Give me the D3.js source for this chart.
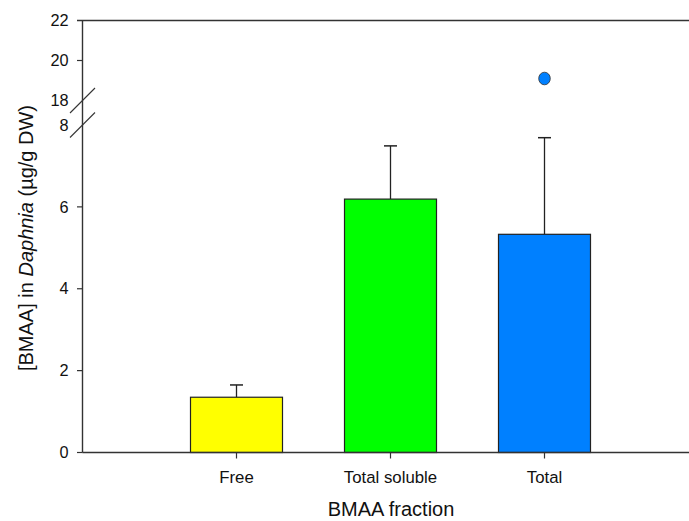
<!DOCTYPE html>
<html>
<head>
<meta charset="utf-8">
<script src="https://cdn.jsdelivr.net/npm/d3@7"></script>
<style>
body{margin:0;background:#fff;}
svg{display:block;font-family:"Liberation Sans",Arial,sans-serif;}
</style>
</head>
<body>
<svg id="chart" width="689" height="521"></svg>
<script>
const categories = ["Free", "Total soluble", "Total"];
const means = [1.35, 6.19, 5.33];
const errTop = [1.65, 7.49, 7.69];
const colors = ["#ffff00", "#00ff00", "#0080ff"];
const outliers = [{cat: "Total", value: 19.1}];
const lowTicks = [0, 2, 4, 6, 8];
const highTicks = [18, 20, 22];

const svg = d3.select("#chart");
const W = 689, H = 521;
const axisX = 82.5;
const x = d3.scaleLinear().domain([0, 4]).range([axisX, axisX + 4 * 154]);
const catPos = c => x(categories.indexOf(c) + 1);
const yLow = d3.scaleLinear().domain([0, 8]).range([452.5, 125]);
const yHigh = d3.scaleLinear().domain([18, 22]).range([100.5, 20.5]);
const barW = 92;

// Bars
const g = svg.append("g");
categories.forEach((c, i) => {
  const cx = catPos(c);
  g.append("line").attr("x1", cx).attr("x2", cx)
    .attr("y1", yLow(means[i])).attr("y2", yLow(errTop[i]))
    .attr("stroke", "#222").attr("stroke-width", 1.3);
  g.append("line").attr("x1", cx - 6.5).attr("x2", cx + 6.5)
    .attr("y1", yLow(errTop[i])).attr("y2", yLow(errTop[i]))
    .attr("stroke", "#222").attr("stroke-width", 1.5);
  g.append("rect").attr("x", cx - barW / 2).attr("width", barW)
    .attr("y", yLow(means[i])).attr("height", yLow(0) - yLow(means[i]))
    .attr("fill", colors[i]).attr("stroke", "#222").attr("stroke-width", 1.2);
});

// outliers
outliers.forEach(o => {
  const i = categories.indexOf(o.cat);
  g.append("ellipse").attr("cx", catPos(o.cat)).attr("cy", yHigh(o.value))
    .attr("rx", 5.8).attr("ry", 6.3)
    .attr("fill", colors[i]).attr("stroke", "#333").attr("stroke-width", 0.8);
});

// Axes
const axisColor = "#333";
svg.append("line").attr("x1", axisX).attr("x2", W + 20)
  .attr("y1", yLow(0)).attr("y2", yLow(0)).attr("stroke", axisColor).attr("stroke-width", 1.4);
svg.append("line").attr("x1", axisX - 5.5).attr("x2", W + 20)
  .attr("y1", yHigh(22)).attr("y2", yHigh(22)).attr("stroke", axisColor).attr("stroke-width", 1.4);
svg.append("line").attr("x1", axisX).attr("x2", axisX)
  .attr("y1", yHigh(22)).attr("y2", yLow(0)).attr("stroke", axisColor).attr("stroke-width", 1.4);

// x ticks + labels
categories.forEach(c => {
  const cx = catPos(c);
  svg.append("line").attr("x1", cx).attr("x2", cx).attr("y1", yLow(0)).attr("y2", yLow(0) + 6)
    .attr("stroke", axisColor).attr("stroke-width", 1.2);
  svg.append("text").attr("x", cx).attr("y", 483).attr("text-anchor", "middle")
    .attr("font-size", 16.8).attr("fill", "#111").text(c);
});

// y ticks
const tickLab = (yv, t) => svg.append("text").attr("x", 68.5).attr("y", yv).attr("dy", "0.35em")
  .attr("text-anchor", "end").attr("font-size", 16.3).attr("fill", "#111").text(t);
lowTicks.forEach(t => {
  if (t !== 8) svg.append("line").attr("x1", axisX - 5.5).attr("x2", axisX).attr("y1", yLow(t)).attr("y2", yLow(t))
    .attr("stroke", axisColor).attr("stroke-width", 1.2);
  tickLab(yLow(t), t);
});
highTicks.forEach(t => {
  if (t === 20) svg.append("line").attr("x1", axisX - 5.5).attr("x2", axisX).attr("y1", yHigh(t)).attr("y2", yHigh(t))
    .attr("stroke", axisColor).attr("stroke-width", 1.2);
  tickLab(yHigh(t), t);
});

// break marks
[yHigh(18), yLow(8)].forEach(yy => {
  svg.append("line").attr("x1", axisX - 12.5).attr("x2", axisX + 12.5)
    .attr("y1", yy + 12.5).attr("y2", yy - 12.5)
    .attr("stroke", axisColor).attr("stroke-width", 1.1);
});

// axis titles
svg.append("text").attr("x", 391).attr("y", 516).attr("text-anchor", "middle")
  .attr("font-size", 20).attr("fill", "#111").text("BMAA fraction");
const yt = svg.append("text").attr("transform", `translate(33,238) rotate(-90)`)
  .attr("text-anchor", "middle").attr("font-size", 20).attr("fill", "#111");
yt.append("tspan").text("[BMAA] in ");
yt.append("tspan").attr("font-style", "italic").text("Daphnia");
yt.append("tspan").text(" (µg/g DW)");
</script>
</body>
</html>
